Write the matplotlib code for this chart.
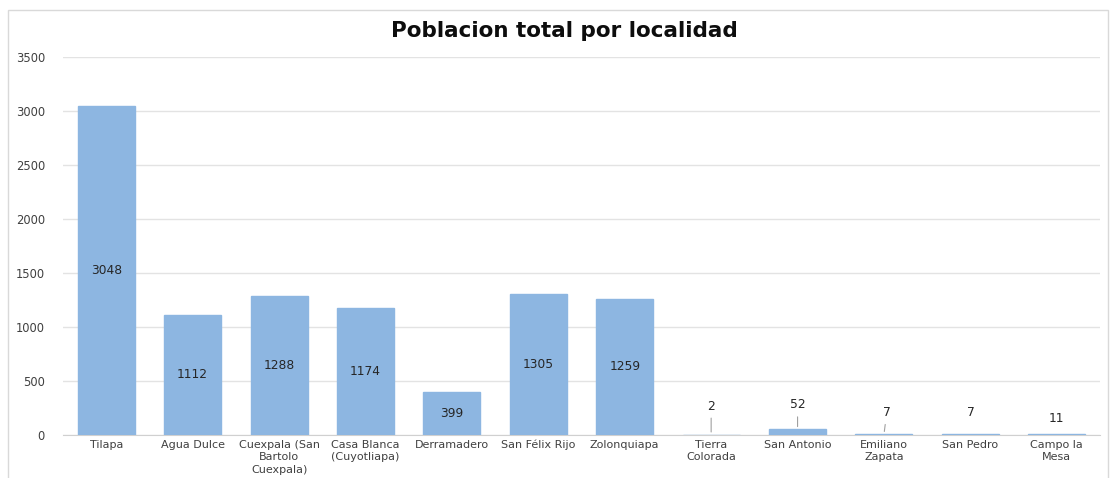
import matplotlib.pyplot as plt
from matplotlib.patches import Rectangle

# Data
localidades = [
    "Tilapa", "Agua Dulce", "Cuexpala (San\nBartolo\nCuexpala)",
    "Casa Blanca\n(Cuyotliapa)", "Derramadero", "San Félix Rijo",
    "Zolonquiapa", "Tierra\nColorada", "San Antonio", "Emiliano\nZapata",
    "San Pedro", "Campo la\nMesa",
]
poblacion = [3048, 1112, 1288, 1174, 399, 1305, 1259, 2, 52, 7, 7, 11]
y_ticks = [0, 500, 1000, 1500, 2000, 2500, 3000, 3500]

bar_color = "#8DB6E1"
grid_color = "#E3E3E3"
text_color = "#404040"

fig = plt.figure(figsize=(11.1, 4.78), dpi=100)
ax = fig.add_axes([0.0568, 0.090, 0.9342, 0.791])

# chart border
fig.patches.append(Rectangle((8 / 1110, -0.01), 1100 / 1110, 1 - 10 / 478 + 0.01,
                             transform=fig.transFigure, fill=False,
                             edgecolor="#D9D9D9", linewidth=1))

x = range(len(localidades))
bars = ax.bar(x, poblacion, width=0.66, color=bar_color, edgecolor=bar_color,
              linewidth=1, zorder=3)

ax.set_xlim(-0.5, len(localidades) - 0.5)
ax.set_ylim(0, 3500)
ax.set_yticks(y_ticks)
ax.set_xticks(list(x))
ax.set_xticklabels(localidades, fontsize=8, color=text_color, linespacing=1.3)
ax.tick_params(axis="y", labelsize=8.3, labelcolor=text_color, length=0, pad=13)
ax.tick_params(axis="x", length=0, pad=3.5)
ax.grid(axis="y", color=grid_color, linewidth=1, zorder=0)
for s in ["top", "right", "left"]:
    ax.spines[s].set_visible(False)
ax.spines["bottom"].set_color("#D0D0D0")
ax.spines["bottom"].set_zorder(1)

# value labels: big bars in the middle, small ones above with leader lines
offsets = {7: (0, 16), 8: (0, 13), 9: (2, 11), 10: (0, 11), 11: (0, 6)}
for i, (b, v) in enumerate(zip(bars, poblacion)):
    cx = b.get_x() + b.get_width() / 2
    if i in offsets:
        dx, dy = offsets[i]
        arrow = dict(arrowstyle="-", color="#A0A0A0", lw=0.8) if dy > 10 and i != 10 else None
        ax.annotate(str(v), xy=(cx, v), xytext=(dx, dy), textcoords="offset points",
                    ha="center", va="bottom", fontsize=8.8, color="#262626",
                    arrowprops=arrow)
    else:
        ax.text(cx, v / 2, str(v), ha="center", va="center", fontsize=8.8, color="#262626")

fig.text(0.508, 0.935, "Poblacion total por localidad", ha="center", va="center",
         fontsize=15.5, fontweight="bold", color="#0D0D0D")

fig.savefig("out.png", dpi=100)
